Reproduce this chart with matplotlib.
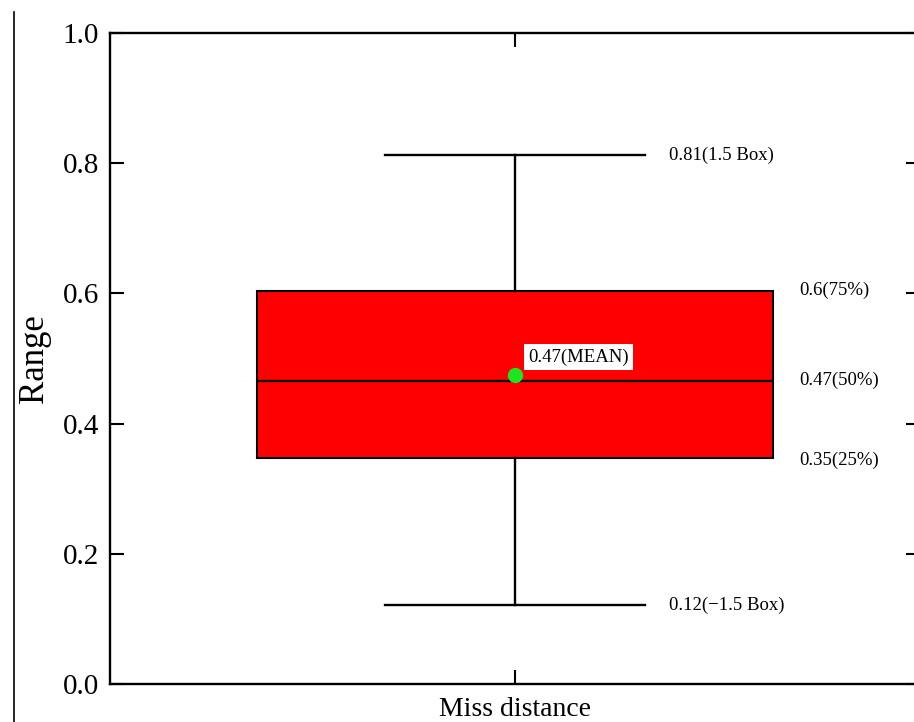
import matplotlib
matplotlib.use("Agg")
import matplotlib.pyplot as plt
from matplotlib.lines import Line2D

plt.rcParams['font.family'] = ['Liberation Serif', 'DejaVu Serif']

# summary statistics for the miss distance sample
category = "Miss distance"
whisker_low = 0.121
q1 = 0.347
median = 0.466
q3 = 0.604
whisker_high = 0.812
mean = 0.474

yticks = [0.0, 0.2, 0.4, 0.6, 0.8, 1.0]


def fmt(v):
    return f"{round(v, 2):g}"


stats = [{
    "label": category,
    "whislo": whisker_low,
    "q1": q1,
    "med": median,
    "q3": q3,
    "whishi": whisker_high,
    "mean": mean,
}]

fig = plt.figure(figsize=(9.14, 7.22), dpi=100)
ax = fig.add_axes([110 / 914, 1 - 684 / 722, 810 / 914, 651 / 722])

ax.bxp(stats, positions=[1], widths=0.637, showmeans=True, showfliers=False,
       patch_artist=True, capwidths=0.321,
       boxprops=dict(facecolor="#ff0000", edgecolor="black", linewidth=1.5),
       medianprops=dict(color="black", linewidth=1.6),
       whiskerprops=dict(color="black", linewidth=1.7),
       capprops=dict(color="black", linewidth=1.7),
       meanprops=dict(marker="o", markerfacecolor="#1ee61e",
                      markeredgecolor="#1ee61e", markersize=10))

ax.set_xlim(0.5, 1.5)
ax.set_ylim(0, 1.0)
ax.set_yticks(yticks)
ax.set_yticklabels([f"{t:.1f}" for t in yticks])
ax.set_xticks([1])
ax.set_xticklabels([category])

ax.tick_params(direction="in", top=True, right=True, length=10, width=1.5,
               labelsize=21, pad=8)
ax.tick_params(axis="x", labelsize=20, pad=9)
for sp in ax.spines.values():
    sp.set_linewidth(1.7)

ax.set_ylabel("Range", fontsize=25, labelpad=8)

# value annotations
cap_right = 1 + 0.321 / 2
box_right = 1 + 0.637 / 2
fs = 13.5
ax.text(cap_right + 0.03, whisker_high, f"{fmt(whisker_high)}(1.5 Box)",
        fontsize=fs, va="center", ha="left")
ax.text(cap_right + 0.03, whisker_low, f"{fmt(whisker_low)}(\u22121.5 Box)",
        fontsize=fs, va="center", ha="left")
ax.text(box_right + 0.033, q3, f"{fmt(q3)}(75%)", fontsize=fs, va="center", ha="left")
ax.text(box_right + 0.033, median, f"{fmt(median)}(50%)", fontsize=fs, va="center", ha="left")
ax.text(box_right + 0.033, q1 - 0.004, f"{fmt(q1)}(25%)", fontsize=fs, va="center", ha="left")
ax.text(1.016, mean + 0.028, f"{fmt(mean)}(MEAN)", fontsize=fs, va="center", ha="left",
        bbox=dict(facecolor="white", edgecolor="none", pad=3))

# thin frame line on the left edge of the figure
fig.add_artist(Line2D([14 / 914, 14 / 914], [0, 1 - 12 / 722],
                      transform=fig.transFigure, color="black", linewidth=1.2))

fig.savefig("out.png", dpi=100)
